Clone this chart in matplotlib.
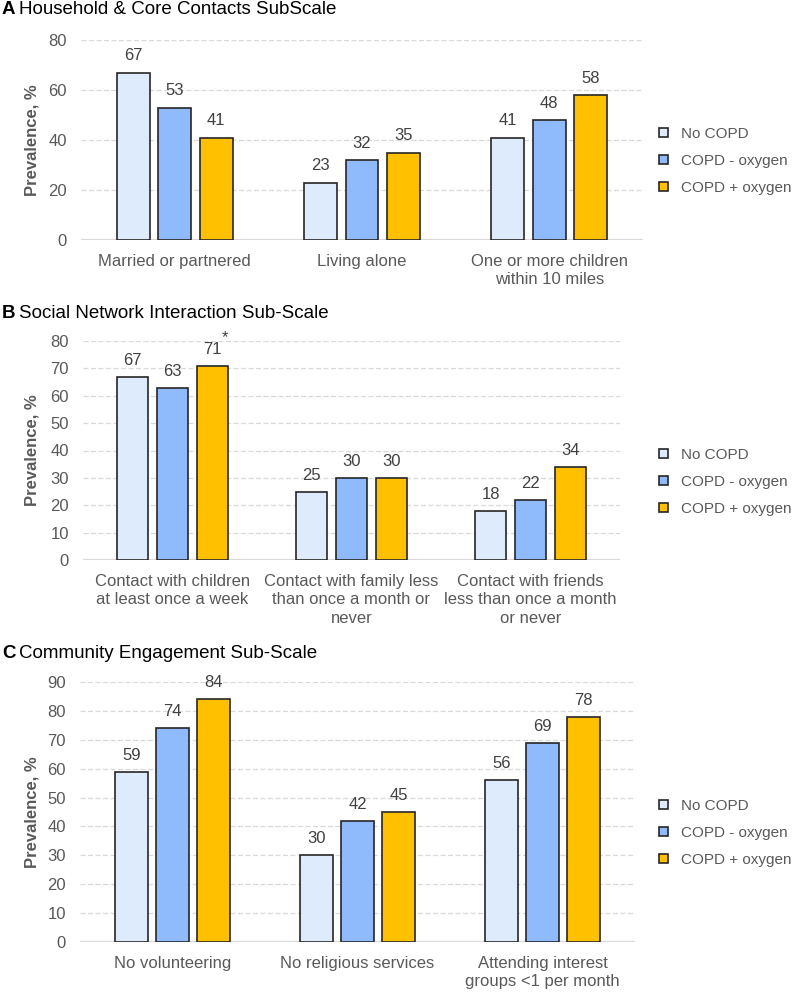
import numpy as np
import matplotlib
matplotlib.use("Agg")
import matplotlib.pyplot as plt

plt.rcParams['font.family'] = ['Liberation Sans', 'DejaVu Sans']

# ==============================
# Data
# ==============================
groups = ["No COPD", "COPD - oxygen", "COPD + oxygen"]
colors = ["#DDEBFC", "#8FBBFD", "#FFC000"]

a_title = "Household & Core Contacts SubScale"
a_cats = ["Married or partnered", "Living alone", "One or more children\nwithin 10 miles"]
a_vals = [[67, 23, 41],   # No COPD
          [53, 32, 48],   # COPD - oxygen
          [41, 35, 58]]   # COPD + oxygen

b_title = "Social Network Interaction Sub-Scale"
b_cats = ["Contact with children\nat least once a week",
          "Contact with family less\nthan once a month or\nnever",
          "Contact with friends\nless than once a month\nor never"]
b_vals = [[67, 25, 18],
          [63, 30, 22],
          [71, 30, 34]]
b_marks = [["", "", ""],
           ["", "", ""],
           ["*", "", ""]]

c_title = "Community Engagement Sub-Scale"
c_cats = ["No volunteering", "No religious services",
          "Attending interest\ngroups <1 per month"]
c_vals = [[59, 30, 56],
          [74, 42, 69],
          [84, 45, 78]]

W, H = 792, 994
fig = plt.figure(figsize=(W / 100, H / 100), dpi=100)

GRAY = "#595959"
GRID = "#D9D9D9"


def px_axes(left, right, top, bottom):
    ax = fig.add_axes([left / W, 1 - bottom / H, (right - left) / W, (bottom - top) / H])
    ax._px = (left, right)
    return ax


def panel(ax, letter, title, cats, vals, ymax, ystep, step, width, title_y,
          legend_y, marks=None):
    x = np.arange(len(cats))
    for i, g in enumerate(groups):
        pos = x + (i - 1) * step
        bars = ax.bar(pos, vals[i], width, color=colors[i], edgecolor="#262626",
                      linewidth=1.2, label=g, zorder=3)
        for j, b in enumerate(bars):
            xc = b.get_x() + b.get_width() / 2
            ax.annotate(str(vals[i][j]), (xc, b.get_height()),
                        xytext=(0, 6.5), textcoords="offset points", ha="center",
                        va="bottom", fontsize=12, color="#404040")
            if marks is not None and marks[i][j]:
                ax.annotate(marks[i][j], (xc, b.get_height()),
                            xytext=(9, 15), textcoords="offset points", ha="center",
                            va="bottom", fontsize=12, color="#404040")
    ax.set_xlim(-0.5, len(cats) - 0.5)
    ax.set_ylim(0, ymax)
    ax.set_yticks(np.arange(0, ymax + 1, ystep))
    ax.set_xticks(x)
    ax.set_xticklabels(cats, fontsize=12, color=GRAY, linespacing=1.3)
    ax.tick_params(axis="both", length=0, labelcolor=GRAY)
    ax.tick_params(axis="x", pad=10, labelsize=12)
    ax.tick_params(axis="y", pad=10, labelsize=12)
    for s in ax.spines.values():
        s.set_visible(False)
    ax.grid(axis="y", color=GRID, linestyle=(0, (4, 2)), linewidth=0.9, zorder=0)
    ax.axhline(0, color=GRID, linewidth=1.6, zorder=2)
    ax.set_ylabel("Prevalence, %", fontsize=12, fontweight="bold", color=GRAY)
    left, right = ax._px
    ax.yaxis.set_label_coords((32 - left) / (right - left), 0.5)
    ax.yaxis.label.set_va("center")
    fig.text(2 / W, 1 - title_y / H, letter, fontsize=13.5, fontweight="bold",
             va="center", ha="left")
    fig.text(19 / W, 1 - title_y / H, title, fontsize=13.5, va="center", ha="left")
    leg = ax.legend(loc="center left", bbox_to_anchor=(659 / W, 1 - legend_y / H),
                    bbox_transform=fig.transFigure, frameon=False, fontsize=11,
                    handlelength=0.6, handleheight=0.6, handletextpad=0.85,
                    labelspacing=0.85, borderaxespad=0, borderpad=0)
    for t in leg.get_texts():
        t.set_color(GRAY)
    for h in leg.legend_handles:
        h.set_linewidth(1.2)


ax_a = px_axes(81, 643, 40, 240)
panel(ax_a, "A", a_title, a_cats, a_vals, 80, 20, 0.221, 0.176, 10, 161)

ax_b = px_axes(83, 620, 341, 560)
panel(ax_b, "B", b_title, b_cats, b_vals, 80, 10, 0.223, 0.176, 313, 482, b_marks)

ax_c = px_axes(80, 635, 682, 942)
panel(ax_c, "C", c_title, c_cats, c_vals, 90, 10, 0.222, 0.178, 653, 833)

fig.savefig("out.png", dpi=100)
